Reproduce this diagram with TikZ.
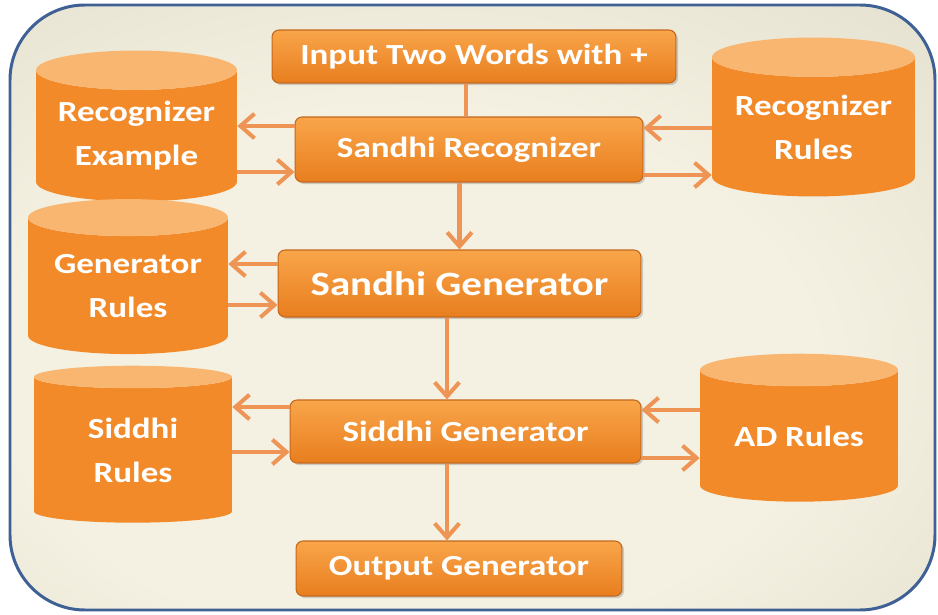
\documentclass[tikz,border=0pt]{standalone}
\usepackage{fontspec}
\newfontfamily\boxfont{Carlito}[FakeStretch=1.2]
\usetikzlibrary{shapes.geometric, arrows.meta, shadows}
\definecolor{frame}{RGB}{63,96,148}
\definecolor{bgin}{RGB}{244,241,226}
\definecolor{bgmid}{RGB}{222,218,200}
\definecolor{bgout}{RGB}{180,175,155}
\definecolor{boxtop}{RGB}{249,165,74}
\definecolor{boxbot}{RGB}{232,126,30}
\definecolor{boxline}{RGB}{196,104,30}
\definecolor{cylbody}{RGB}{242,138,42}
\definecolor{cyltop}{RGB}{249,182,112}
\definecolor{arrcol}{RGB}{238,148,85}
\pgfdeclareradialshading{bgshade}{\pgfpoint{-5bp}{-8bp}}{color(0bp)=(bgin); color(22bp)=(bgin); color(48bp)=(bgmid); color(72bp)=(bgout)}

\begin{document}
\begin{tikzpicture}[x=0.02cm, y=-0.02cm,
  box/.style={draw=boxline, line width=0.6pt, rounded corners=4pt, top color=boxtop, bottom color=boxbot,
    text=white, font=\boxfont\bfseries\fontsize{16.6}{20}\selectfont,
    drop shadow={opacity=0.35, shadow xshift=1.2pt, shadow yshift=-1.2pt}},
  db/.style={cylinder, shape border rotate=90, aspect=0.25, cylinder uses custom fill,
    cylinder body fill=cylbody, cylinder end fill=cyltop, text=white, align=center, inner sep=0pt,
    font=\boxfont\bfseries\fontsize{16.6}{25}\selectfont},
  conn/.style={draw=arrcol, line width=2.3pt},
  arr/.style={conn, -{Straight Barb[length=8pt, width=14pt]}}]

\useasboundingbox (0,0) rectangle (938,615);
\shade[shading=bgshade, rounded corners=1.5cm] (10,5) rectangle (935,610);
\draw[frame, line width=1.7pt, rounded corners=1.5cm] (10,5) rectangle (935,610);

% process boxes
\node[box, minimum width=8.08cm, minimum height=1.06cm] (inp) at (474,56.5) {Input Two Words with +};
\node[box, minimum width=6.96cm, minimum height=1.30cm] (srec) at (469,149.5) {Sandhi Recognizer};
\node[box, minimum width=7.26cm, minimum height=1.34cm, font=\boxfont\bfseries\fontsize{19.4}{22}\selectfont] (sgen) at (459.5,283.5) {Sandhi Generator};
\node[box, minimum width=7.02cm, minimum height=1.26cm] (sidg) at (465.5,431.5) {Siddhi Generator};
\node[box, minimum width=6.52cm, minimum height=1.10cm] (outg) at (459,568.5) {Output Generator};

% rule bases
\node[db, minimum width=4.02cm, minimum height=3.02cm] (rexa) at (136.5,136) {Recognizer\\Example};
\node[db, minimum width=4.06cm, minimum height=3.18cm] (rrul) at (813.5,127) {Recognizer\\Rules};
\node[db, minimum width=4.00cm, minimum height=3.10cm] (grul) at (128,286) {Generator\\Rules};
\node[db, minimum width=3.96cm, minimum height=3.14cm] (srul) at (133,450) {Siddhi\\Rules};
\node[db, minimum width=3.96cm, minimum height=2.96cm] (adru) at (799,436) {AD Rules};

\coordinate (top) at (466,0);
\coordinate (mid) at (447,0);

% main flow
\draw[conn] (top |- inp.south) -- (top |- srec.north);
\draw[arr] (sgen.north |- srec.south) -- (sgen.north);
\draw[arr] (mid |- sgen.south) -- (mid |- sidg.north);
\draw[arr] (mid |- sidg.south) -- (mid |- outg.north);

% side arrows
\draw[arr] ([yshift=0.47cm]srec.west) -- ([yshift=0.47cm]srec.west -| rexa.east);
\draw[arr] ([yshift=-0.45cm]srec.west -| rexa.east) -- ([yshift=-0.45cm]srec.west);
\draw[arr] ([yshift=0.43cm]srec.east -| rrul.west) -- ([yshift=0.43cm]srec.east);
\draw[arr] ([yshift=-0.51cm]srec.east) -- ([yshift=-0.51cm]srec.east -| rrul.west);
\draw[arr] ([yshift=0.39cm]sgen.west) -- ([yshift=0.39cm]sgen.west -| grul.east);
\draw[arr] ([yshift=-0.43cm]sgen.west -| grul.east) -- ([yshift=-0.43cm]sgen.west);
\draw[arr] ([yshift=0.49cm]sidg.west) -- ([yshift=0.49cm]sidg.west -| srul.east);
\draw[arr] ([yshift=-0.41cm]sidg.west -| srul.east) -- ([yshift=-0.41cm]sidg.west);
\draw[arr] ([yshift=0.43cm]sidg.east -| adru.west) -- ([yshift=0.43cm]sidg.east);
\draw[arr] ([yshift=-0.53cm]sidg.east) -- ([yshift=-0.53cm]sidg.east -| adru.west);
\end{tikzpicture}
\end{document}
